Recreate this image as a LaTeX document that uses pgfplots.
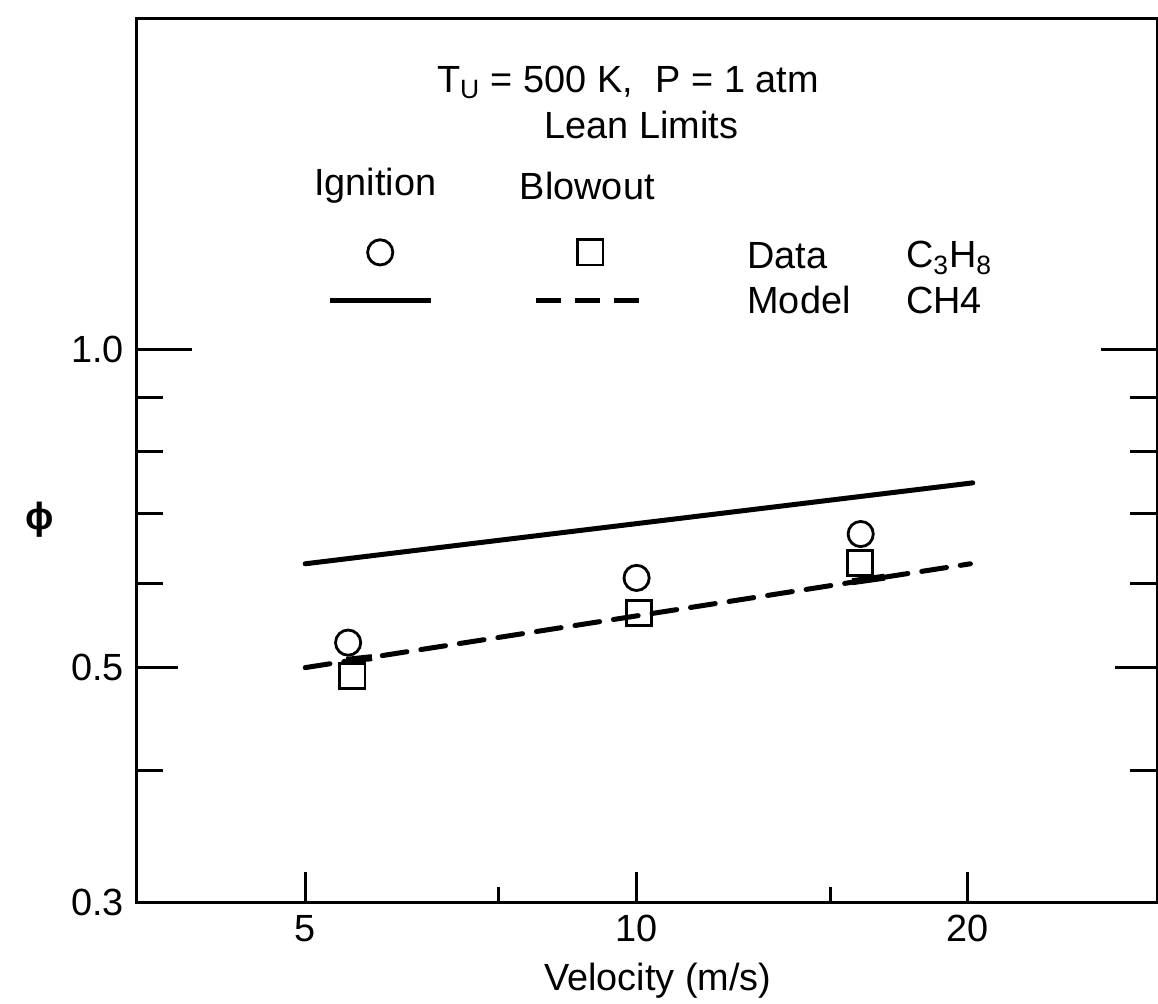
\documentclass[border=0pt]{standalone}
\usepackage{pgfplots}
\pgfplotsset{compat=1.18}
\usetikzlibrary{calc}
\usepackage{fontspec}
\setmainfont{Liberation Sans}
\begin{document}
\fontsize{19}{23}\selectfont
\begin{tikzpicture}
% axis A: data, 1.0 tick and minor y ticks
\begin{axis}[
  scale only axis, width=510.5bp, height=442bp,
  xmode=log, ymode=log,
  xmin=3.51, xmax=29.7, ymin=0.3, ymax=2.06,
  axis line style={line width=1.5bp},
  every tick/.style={line width=1.5bp, black},
  tick align=inside,
  yticklabel style={xshift=0.5bp},
  clip=false,
  xtick={100},
  ytick={1}, yticklabels={1.0},
  minor ytick={0.4,0.6,0.7,0.8,0.9},
  major tick length=28bp, minor tick length=13.5bp,
]
\addplot[black, line width=2.5bp, line cap=round] coordinates {(5,0.627) (20.2,0.748)};
\addplot[black, line width=2.5bp, line cap=round, dash pattern=on 12.5bp off 7bp] coordinates {(5,0.500) (20.1,0.627)};
\addplot[black, line width=3.5bp] coordinates {(15.7,0.603) (16.8,0.609)};
\addplot[black, line width=3.5bp] coordinates {(5.45,0.508) (5.75,0.511)};
\addplot[only marks, mark=o, mark size=6.3bp, mark options={line width=1.4bp, black}] coordinates {(5.47,0.528) (10.0,0.608) (15.98,0.669)};
\addplot[only marks, mark=square, mark size=6.3bp, mark options={line width=1.4bp, black, fill=white}] coordinates {(5.52,0.491) (10.05,0.563) (15.95,0.628)};
\addplot[only marks, mark=o, mark size=6.3bp, mark options={line width=1.4bp, black}] coordinates {(5.85,1.236)};
\addplot[only marks, mark=square, mark size=6.3bp, mark options={line width=1.4bp, black}] coordinates {(9.08,1.236)};
\addplot[black, line width=2.5bp] coordinates {(5.27,1.113) (6.50,1.113)};
\addplot[black, line width=2.5bp, dash pattern=on 12.5bp off 7bp] coordinates {(8.10,1.113) (10.08,1.113)};
\node at (axis cs:9.82,1.79) {T\textsubscript{U} = 500 K,\hspace{0.6em}P = 1 atm};
\node at (axis cs:10.1,1.63) {Lean Limits};
\node at (axis cs:5.79,1.43) {Ignition};
\node at (axis cs:9.02,1.43) {Blowout};
\node[anchor=west] at (axis cs:12.27,1.228) {Data};
\node[anchor=west] at (axis cs:17.1,1.222) {C\textsubscript{3}H\textsubscript{8}};
\node[anchor=west] at (axis cs:12.27,1.113) {Model};
\node[anchor=west] at (axis cs:17.1,1.113) {CH4};
\node at (rel axis cs:-0.094,0.432) {\textbf{ϕ}};
\node at (rel axis cs:0.511,-0.0895) {Velocity (m/s)};
\end{axis}
% axis B: x ticks
\begin{axis}[
  scale only axis, width=510.5bp, height=442bp,
  xmode=log, ymode=log,
  xmin=3.51, xmax=29.7, ymin=0.3, ymax=2.06,
  axis line style={line width=1.5bp},
  every tick/.style={line width=1.5bp, black},
  tick align=inside,
  xtick={5,10,20}, xticklabels={5,10,20},
  minor xtick={7.5,15},
  xtick pos=bottom,
  ytick={100},
  major tick length=15bp, minor tick length=7.5bp,
]
\addplot[draw=none] coordinates {(5,0.5)};
\end{axis}
% axis C: 0.3 and 0.5 ticks
\begin{axis}[
  scale only axis, width=510.5bp, height=442bp,
  xmode=log, ymode=log,
  xmin=3.51, xmax=29.7, ymin=0.3, ymax=2.06,
  axis line style={line width=1.5bp},
  every tick/.style={line width=1.5bp, black},
  tick align=inside,
  yticklabel style={xshift=0.5bp},
  xtick={100},
  ytick={0.3,0.5}, yticklabels={0.3,0.5},
  major tick length=21bp,
]
\addplot[draw=none] coordinates {(5,0.5)};
\end{axis}
\pgfresetboundingbox
\path[use as bounding box] ($(current axis.south west)+(-68bp,-51bp)$) rectangle ($(current axis.north east)+(0.5bp,9bp)$);
\end{tikzpicture}
\end{document}
